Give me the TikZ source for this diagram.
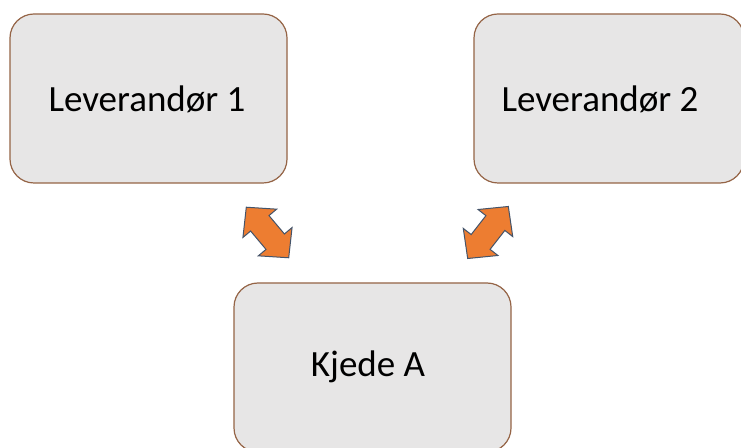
\documentclass[tikz,border=0pt]{standalone}
\usepackage{fontspec}
\setmainfont{Carlito}
\definecolor{boxfill}{HTML}{E7E6E6}
\definecolor{boxline}{HTML}{956446}
\definecolor{arrfill}{HTML}{ED7D31}
\definecolor{arrline}{HTML}{44546A}
\begin{document}
\begin{tikzpicture}[x=1pt,y=1pt,
  box/.style={draw=boxline,line width=1.2pt,fill=boxfill,rounded corners=24pt,inner sep=0pt},
  boxtext/.style={font=\fontsize{37}{44}\selectfont,inner sep=0pt,text=black},
  blockarrow/.style={fill=arrfill,draw=arrline,line width=1pt,line join=miter}]
\useasboundingbox (0,0) rectangle (741,447);
\fill[white] (0,0) rectangle (741,447);
\node[box,minimum width=270pt,minimum height=169pt] (l2) at (609,348.5) {};
\node[box,minimum width=277pt,minimum height=169pt] (l1) at (148.5,348.5) {};
\node[box,minimum width=277pt,minimum height=169pt] (k) at (372.5,79.5) {};
\node[boxtext] (l1t) at (147,348) {Leverandør 1};
\node[boxtext] (l2t) at (600,348) {Leverandør 2};
\node[boxtext] (kt) at (368,80) {Kjede A};
\begin{scope}[shift={(267.5,214.5)},rotate=-50]
\draw[blockarrow] (33,0) -- (12,22) -- (12,12) -- (-12,12) -- (-12,22) -- (-33,0) -- (-12,-22) -- (-12,-12) -- (12,-12) -- (12,-22) -- cycle;
\end{scope}
\begin{scope}[shift={(488,214.5)},rotate=52]
\draw[blockarrow] (33,0) -- (12,22) -- (12,12) -- (-12,12) -- (-12,22) -- (-33,0) -- (-12,-22) -- (-12,-12) -- (12,-12) -- (12,-22) -- cycle;
\end{scope}
\end{tikzpicture}
\end{document}
